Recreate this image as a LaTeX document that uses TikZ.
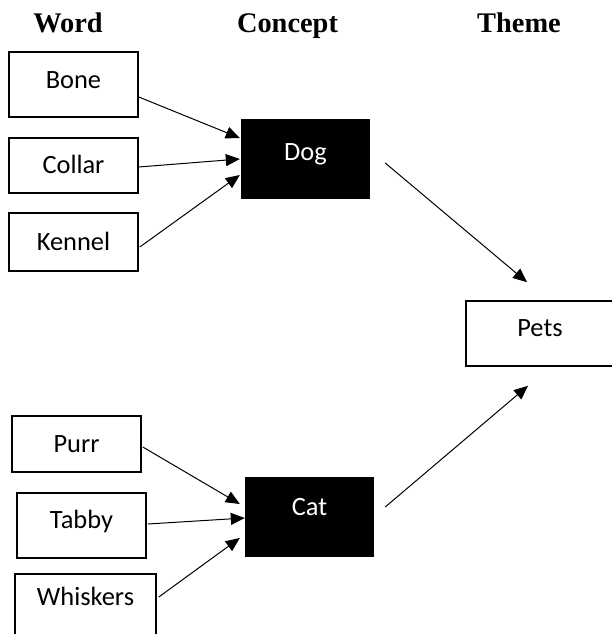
\documentclass[tikz,border=0pt]{standalone}
\usepackage{fontspec}
\setmainfont{Liberation Serif}
\newfontfamily\boxfont{Carlito}
\usetikzlibrary{arrows.meta,calc}

\begin{document}
\begin{tikzpicture}[
    x=1bp, y=-1bp,
    head/.style={font=\fontsize{28.5}{30}\selectfont\bfseries, anchor=base},
    word/.style={rectangle, draw, line width=1.6bp, minimum width=129bp, font=\fontsize{26.5}{28}\boxfont, text height=17.5bp},
    concept/.style={rectangle, fill=black, text=white, minimum width=129bp, minimum height=80bp, font=\fontsize{26.5}{28}\boxfont, text height=17.5bp},
    link/.style={-{Triangle[length=14bp,width=12bp]}, line width=1bp}
]
    \useasboundingbox (0,0) rectangle (612,634);

    % Headings
    \node[head] (hword) at (68,33) {Word};
    \node[head] (hconcept) at (287.5,33) {Concept};
    \node[head] (htheme) at (519,33) {Theme};

    % Words
    \node[word, minimum height=65bp, text depth=10bp] (bone) at (73.5,84.5) {Bone};
    \node[word, minimum height=55bp, text depth=2bp] (collar) at (73.5,165.5) {Collar};
    \node[word, minimum height=58bp, text depth=1bp] (kennel) at (73.5,242) {Kennel};
    \node[word, minimum height=56bp, text depth=0bp] (purr) at (76.5,444) {Purr};
    \node[word, minimum height=65bp, text depth=12bp] (tabby) at (81.5,525.5) {Tabby};
    \node[word, minimum width=141bp, minimum height=66bp, text depth=21bp] (whiskers) at (85.5,607) {Whiskers};

    % Concepts
    \node[concept, text depth=15bp] (dog) at (305.5,159) {Dog};
    \node[concept, text depth=20bp] (cat) at (309.5,517) {Cat};

    % Theme
    \node[word, minimum width=148bp, minimum height=65bp, text depth=12bp] (pets) at (540,333.5) {Pets};

    % Arrows
    \draw[link] ($(bone.east)+(0,12.5)$) -- ($(dog.west)+(-1,-21)$);
    \draw[link] ($(collar.east)+(0,1.5)$) -- ($(dog.west)+(-1,0)$);
    \draw[link] ($(kennel.east)+(1,5)$) -- ($(dog.west)+(-1,16)$);
    \draw[link] ($(purr.east)+(1,3)$) -- ($(cat.west)+(-5,-13)$);
    \draw[link] ($(tabby.east)+(1,-1.5)$) -- ($(cat.west)+(0,1)$);
    \draw[link] ($(whiskers.east)+(2,-10)$) -- ($(cat.west)+(-5,21)$);
    \draw[link] ($(dog.east)+(15,4)$) -- ($(pets.north)+(-13,-18)$);
    \draw[link] ($(cat.east)+(11,-10)$) -- ($(pets.south)+(-12,19)$);
\end{tikzpicture}
\end{document}
